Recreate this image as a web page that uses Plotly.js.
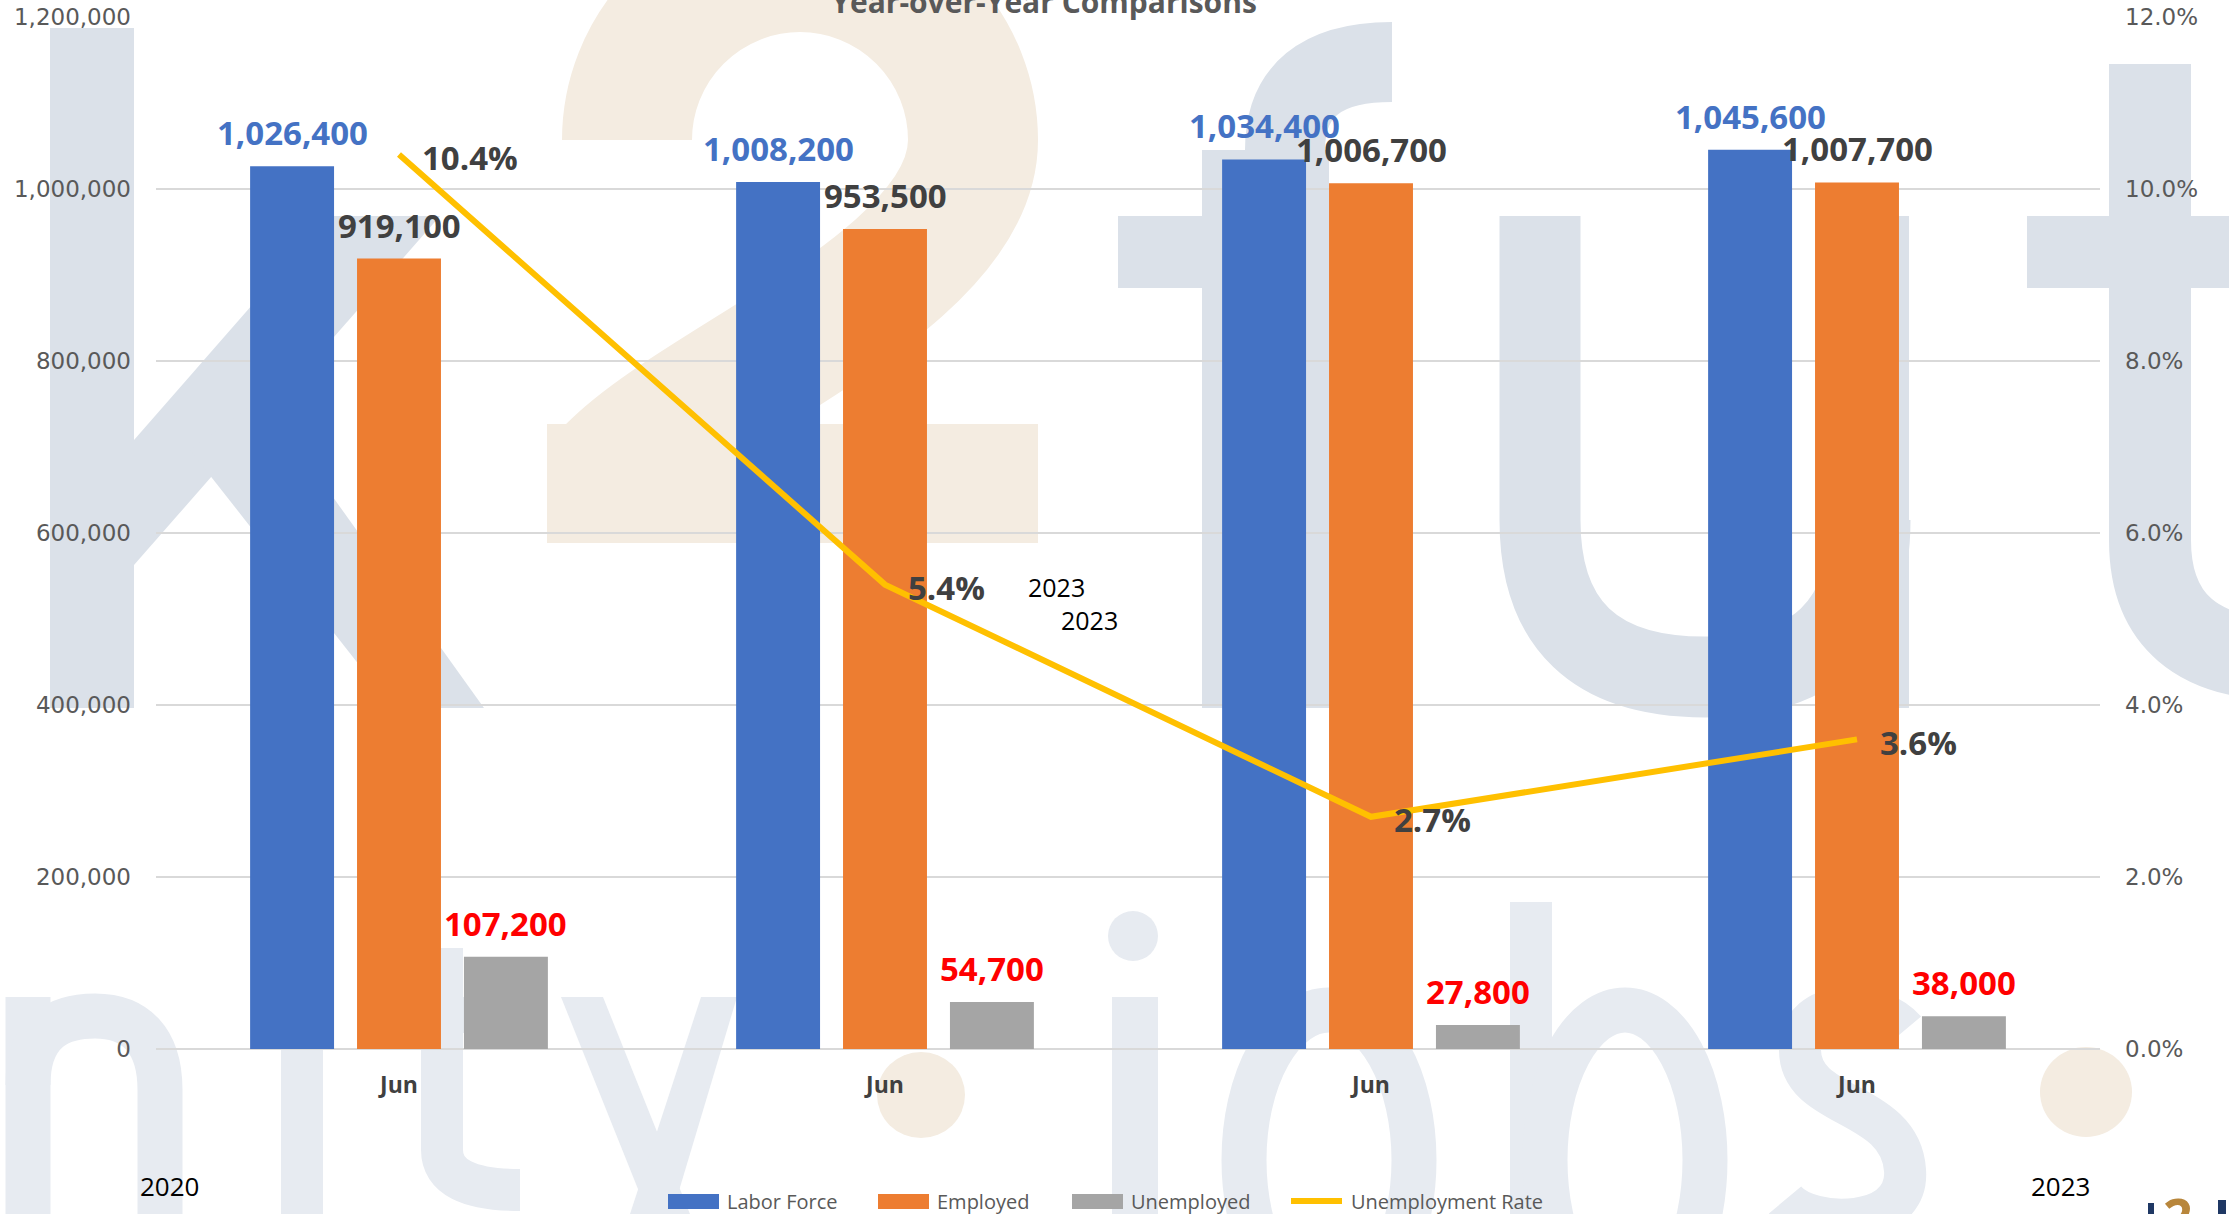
<!DOCTYPE html>
<html><head><meta charset="utf-8">
<script src="https://cdn.plot.ly/plotly-3.0.1.min.js"></script>
<style>html,body{margin:0;padding:0;background:#fff;overflow:hidden;} #chart{width:2229px;height:1214px;}</style>
</head><body><div id="chart"></div>
<script>
// ---------------- data ----------------
const periods = ['Jun 2020', 'Jun 2021', 'Jun 2022', 'Jun 2023'];
const tickLabels = ['Jun', 'Jun', 'Jun', 'Jun'];
const laborForce = [1026400, 1008200, 1034400, 1045600];
const employed = [919100, 953500, 1006700, 1007700];
const unemployed = [107200, 54700, 27800, 38000];
const unemploymentRate = [10.4, 5.4, 2.7, 3.6];
const seriesNames = ['Labor Force', 'Employed', 'Unemployed', 'Unemployment Rate'];
const yearLabels = ['2020', '2023'];
const noteLabels = ['2023', '2023'];
const chartTitle = 'Year-over-Year Comparisons';

// ---------------- layout helpers ----------------
const W = 2229, H = 1214;
const L = 156, R = 2100, T = 17, B = 1049;
const PW = R - L, PH = B - T;
const px = x => (x - L) / PW;
const py = y => (B - y) / PH;
const BARGAP = 0.34, BARGROUPGAP = 0.215;

const colors = ['#4472C4', '#ED7D31', '#A5A5A5', '#FFC000'];
const labelColors = ['#4472C4', '#404040', '#FF0000'];

// background watermark (decorative logo)
const C1 = '#DBE1E9', C2 = '#F4ECE1', C3 = '#E7EBF1';
const wm = `<svg xmlns="http://www.w3.org/2000/svg" width="${W}" height="${H}" viewBox="0 0 ${W} ${H}" preserveAspectRatio="none">
<g fill="${C1}">
<rect x="50" y="28" width="84" height="680"/>
<polygon points="134,440 330,216 440,216 134,565"/>
<polygon points="190,450 262,398 484,708 393,708"/>
<rect x="1118" y="216" width="211" height="72"/>
<rect x="1202" y="150" width="127" height="558"/>
<rect x="1831" y="216" width="78" height="492"/>
<rect x="2027" y="216" width="230" height="72"/>
</g>
<g fill="none" stroke="${C1}">
<path d="M1285,200 L1285,150 Q1285,62 1392,62" stroke-width="80"/>
<path d="M1540,216 L1540,520 Q1540,677 1705,677 Q1870,677 1870,520" stroke-width="81"/>
<path d="M2150,64 L2150,540 Q2150,660 2290,660" stroke-width="82"/>
</g>
<g>
<path d="M627,140 A173,173 0 0 1 973,140 C973,280 700,380 612,470" fill="none" stroke="${C2}" stroke-width="130"/>
<rect x="547" y="424" width="491" height="119" fill="${C2}"/>
<ellipse cx="921" cy="1095" rx="44" ry="43" fill="${C2}"/>
<ellipse cx="2086" cy="1092" rx="46" ry="45" fill="${C2}"/>
</g>
<g fill="${C3}">
<rect x="281" y="997" width="42" height="230"/>
<rect x="400" y="997" width="105" height="36"/>
<polygon points="561,997 603,997 690,1214 648,1214"/>
<polygon points="701,997 737,997 672,1214 630,1214"/>
<rect x="1112" y="997" width="46" height="230"/>
<ellipse cx="1133" cy="936" rx="25" ry="25"/>
<rect x="1510" y="902" width="42" height="330"/>
</g>
<g fill="none" stroke="${C3}">
<path d="M28,1230 L28,997" stroke-width="45"/>
<path d="M28,1085 C28,1030 60,1016 95,1016 C135,1016 160,1040 160,1090 L160,1230" stroke-width="45"/>
<path d="M442,948 L442,1150 Q442,1190 520,1190" stroke-width="42"/>
<ellipse cx="1329" cy="1160" rx="85" ry="150" stroke-width="45"/>
<ellipse cx="1625" cy="1160" rx="80" ry="150" stroke-width="45"/>
<path d="M1905,1030 C1880,1000 1800,995 1800,1050 C1800,1110 1900,1100 1905,1170 C1910,1230 1810,1230 1785,1200" stroke-width="42"/>
</g>
<rect x="2148" y="1203" width="6" height="11" fill="#1F3864"/>
<text x="2163" y="1236" font-family="Open Sans" font-weight="bold" font-size="52" fill="#B8863B">2</text>
<rect x="2218" y="1200" width="8" height="14" fill="#1F3864"/>
</svg>`;
const wmSrc = 'data:image/svg+xml;charset=utf-8,' + encodeURIComponent(wm);

const labelFont = c => ({family: 'Open Sans', size: 33, color: c, weight: 'bold'});
const fmtNum = v => v.toLocaleString('en-US');

const barSeries = [laborForce, employed, unemployed];
const traces = barSeries.map((vals, i) => ({
  type: 'bar',
  name: seriesNames[i],
  x: periods,
  y: vals,
  marker: {color: colors[i]},
  hoverinfo: 'skip',
  showlegend: false
}));

traces.push({
  type: 'scatter',
  mode: 'lines',
  name: seriesNames[3],
  x: periods,
  y: unemploymentRate,
  yaxis: 'y2',
  line: {color: colors[3], width: 6},
  cliponaxis: false,
  hoverinfo: 'skip',
  showlegend: false
});

const annotations = [];
// data labels for bars (anchored to each bar through the axes' scales)
const barPitch = PW / periods.length * (1 - BARGAP) / barSeries.length;
barSeries.forEach((vals, i) => {
  vals.forEach((v, j) => annotations.push({
    xref: 'x', yref: 'y', x: periods[j], y: v,
    xshift: (i - (barSeries.length - 1) / 2) * barPitch, yshift: 9,
    xanchor: 'center', yanchor: 'bottom', showarrow: false,
    text: fmtNum(v), font: labelFont(labelColors[i])
  }));
});
// data labels for the rate line
unemploymentRate.forEach((v, j) => annotations.push({
  xref: 'x', yref: 'y2', x: periods[j], y: v, xshift: 21, yshift: -3,
  xanchor: 'left', yanchor: 'middle', showarrow: false,
  text: v.toFixed(1) + '%', font: labelFont('#404040')
}));

// custom legend (swatches + names)
const legendX = [668, 878, 1072, 1291];
const legendTextX = [725, 935, 1129, 1349];
const legendY = 1201;
const shapes = [];
seriesNames.forEach((n, i) => {
  if (i < 3) {
    shapes.push({type: 'rect', xref: 'paper', yref: 'paper',
      x0: px(legendX[i]), x1: px(legendX[i] + 51), y0: py(legendY + 8), y1: py(legendY - 7),
      fillcolor: colors[i], line: {width: 0}});
  } else {
    shapes.push({type: 'line', xref: 'paper', yref: 'paper',
      x0: px(legendX[i]), x1: px(legendX[i] + 51), y0: py(legendY), y1: py(legendY),
      line: {color: colors[i], width: 6}});
  }
  annotations.push({xref: 'paper', yref: 'paper', x: px(legendTextX[i]), y: py(legendY),
    xanchor: 'left', yanchor: 'middle', showarrow: false, text: n,
    font: {family: 'Open Sans', size: 20, color: '#595959'}});
});

const yearPos = [[169, 1186], [2060, 1186]];
yearLabels.forEach((t, i) => annotations.push({xref: 'paper', yref: 'paper',
  x: px(yearPos[i][0]), y: py(yearPos[i][1]), xanchor: 'center', yanchor: 'middle',
  showarrow: false, text: t, font: {family: 'Open Sans', size: 26, color: '#000000'}}));
const notePos = [[1056, 587], [1089, 620]];
noteLabels.forEach((t, i) => annotations.push({xref: 'paper', yref: 'paper',
  x: px(notePos[i][0]), y: py(notePos[i][1]), xanchor: 'center', yanchor: 'middle',
  showarrow: false, text: t, font: {family: 'Open Sans', size: 25, color: '#000000'}}));

const tickFont = {family: 'DejaVu Sans', size: 23, color: '#595959'};

const layout = {
  width: W, height: H,
  margin: {l: L, r: W - R, t: T, b: H - B, pad: 0},
  paper_bgcolor: '#ffffff',
  plot_bgcolor: 'rgba(0,0,0,0)',
  title: {text: chartTitle, xref: 'container', yref: 'container', x: 1044 / W, xanchor: 'center',
    y: 1 - 2.5 / H, yanchor: 'middle',
    font: {family: 'Open Sans', size: 30, color: '#595959', weight: 'bold'}},
  barmode: 'group',
  bargap: BARGAP,
  bargroupgap: BARGROUPGAP,
  showlegend: false,
  xaxis: {type: 'category', tickvals: periods, ticktext: tickLabels, ticks: '', showline: false,
    showgrid: false, zeroline: false, ticklabelstandoff: 20,
    tickfont: {family: 'Open Sans', size: 23, color: '#404040', weight: 'bold'}},
  yaxis: {range: [0, 1200000], dtick: 200000, tickformat: ',', ticks: '', showline: false,
    showgrid: true, gridcolor: '#D9D9D9', gridwidth: 2, zeroline: true, zerolinecolor: '#D9D9D9',
    zerolinewidth: 2, ticklabelstandoff: 24, tickfont: tickFont},
  yaxis2: {range: [0, 12], dtick: 2, tickformat: '.1f', ticksuffix: '%', overlaying: 'y',
    side: 'right', showgrid: false, zeroline: false, ticks: '', showline: false,
    ticklabelstandoff: 24, tickfont: tickFont},
  images: [{source: wmSrc, xref: 'paper', yref: 'paper', x: px(0), y: py(0),
    sizex: W / PW, sizey: H / PH, xanchor: 'left', yanchor: 'top', sizing: 'stretch', layer: 'below'}],
  shapes: shapes,
  annotations: annotations
};

Plotly.newPlot('chart', traces, layout, {staticPlot: true, displayModeBar: false});
</script>
</body></html>
